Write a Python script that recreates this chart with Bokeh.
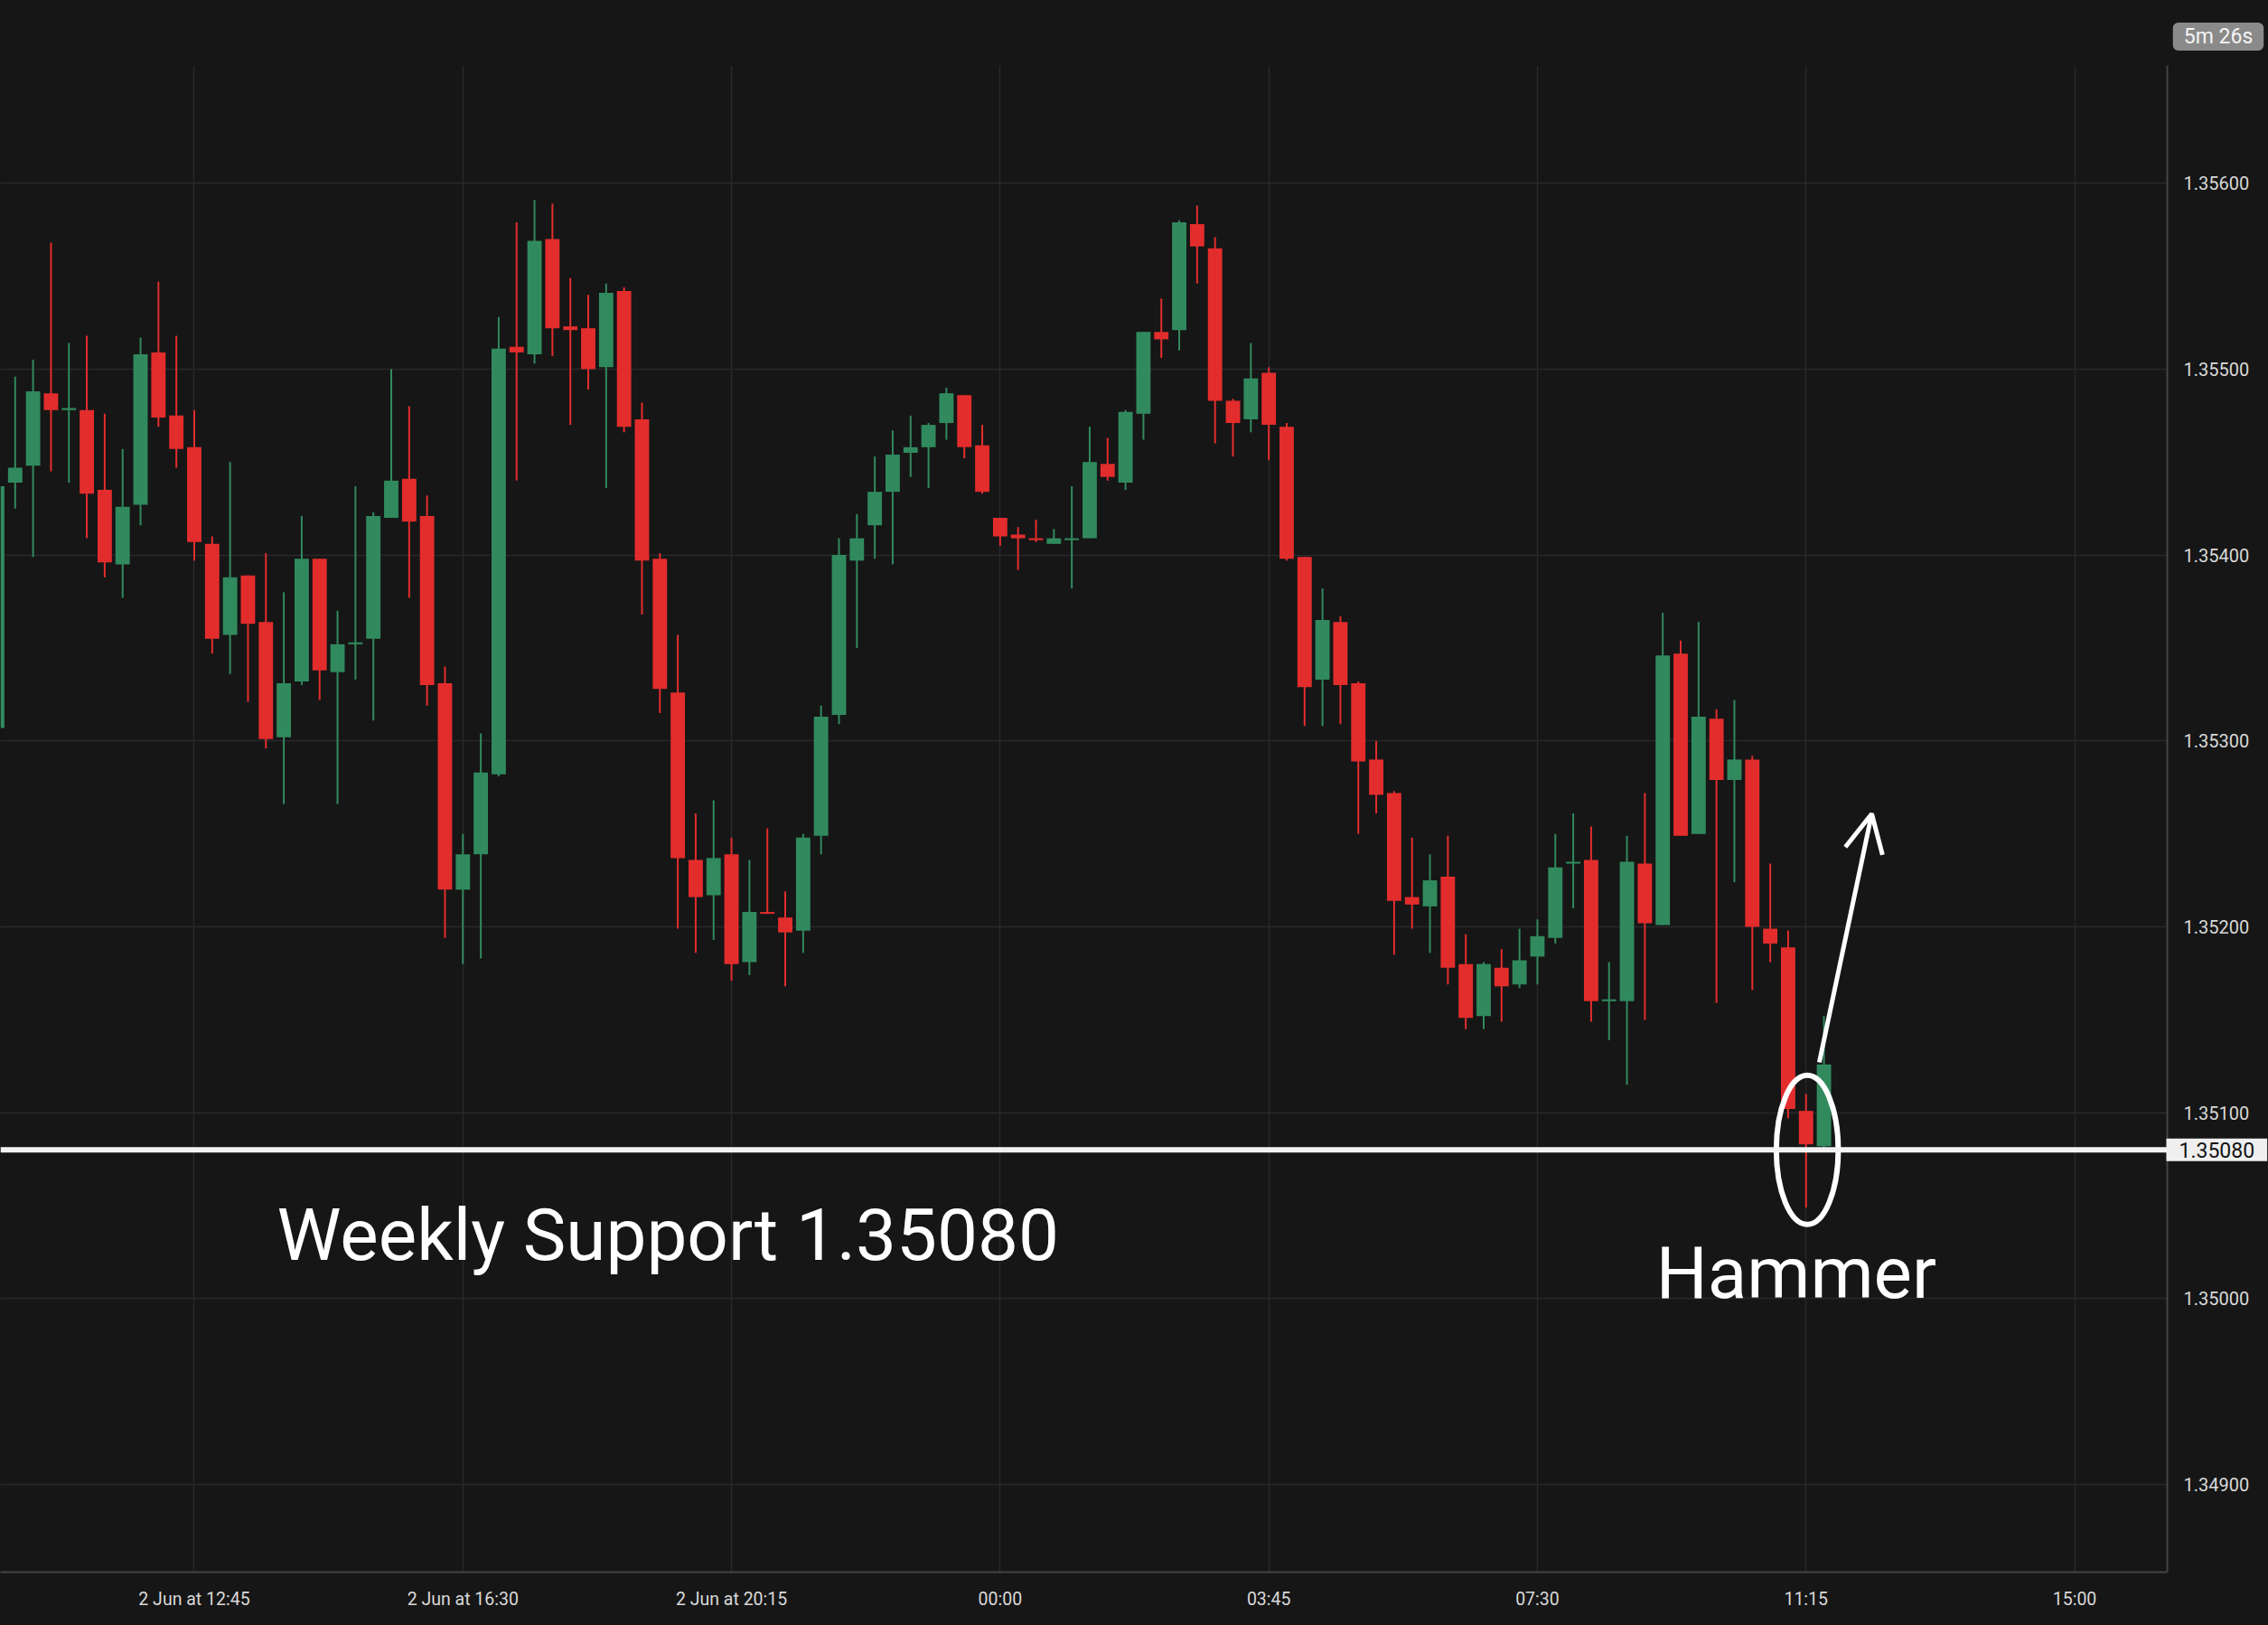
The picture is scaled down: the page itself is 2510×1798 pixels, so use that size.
from bokeh.plotting import figure
from bokeh.models import (ColumnDataSource, FixedTicker, Span, Label, Arrow,
                          OpenHead, PrintfTickFormatter)
from bokeh.embed import file_html
from bokeh.resources import INLINE

# ---- data (15-minute candles; index 0 = 2 Jun 12:45) ----
first_index = -11
opens = [1.35307, 1.35439, 1.35448, 1.35487, 1.35478, 1.35478, 1.35435, 1.35395, 1.35427, 1.35509,
         1.35475, 1.35458, 1.35406, 1.35357, 1.35389, 1.35364, 1.35302, 1.35332, 1.35398, 1.35337,
         1.35352, 1.35355, 1.35420, 1.35441, 1.35421, 1.35331, 1.35220, 1.35239, 1.35282, 1.35512,
         1.35508, 1.35570, 1.35523, 1.35522, 1.35501, 1.35542, 1.35473, 1.35398, 1.35326, 1.35236,
         1.35217, 1.35239, 1.35181, 1.35208, 1.35205, 1.35198, 1.35249, 1.35314, 1.35397, 1.35416,
         1.35434, 1.35455, 1.35458, 1.35471, 1.35486, 1.35459, 1.35420, 1.35411, 1.35409, 1.35406,
         1.35408, 1.35409, 1.35449, 1.35439, 1.35476, 1.35520, 1.35521, 1.35578, 1.35565, 1.35483,
         1.35473, 1.35498, 1.35469, 1.35399, 1.35333, 1.35364, 1.35331, 1.35290, 1.35272, 1.35216,
         1.35211, 1.35227, 1.35180, 1.35152, 1.35178, 1.35169, 1.35184, 1.35194, 1.35234, 1.35236,
         1.35160, 1.35160, 1.35234, 1.35201, 1.35347, 1.35250, 1.35312, 1.35279, 1.35290, 1.35199,
         1.35189, 1.35101, 1.35082]
highs = [1.35440, 1.35496, 1.35505, 1.35568, 1.35514, 1.35518, 1.35476, 1.35457, 1.35517, 1.35547,
         1.35518, 1.35478, 1.35410, 1.35450, 1.35389, 1.35401, 1.35380, 1.35421, 1.35398, 1.35370,
         1.35437, 1.35423, 1.35500, 1.35480, 1.35432, 1.35340, 1.35250, 1.35304, 1.35528, 1.35579,
         1.35591, 1.35589, 1.35549, 1.35540, 1.35546, 1.35544, 1.35482, 1.35401, 1.35357, 1.35261,
         1.35268, 1.35248, 1.35236, 1.35253, 1.35219, 1.35250, 1.35319, 1.35409, 1.35422, 1.35453,
         1.35467, 1.35475, 1.35471, 1.35490, 1.35486, 1.35470, 1.35420, 1.35415, 1.35419, 1.35414,
         1.35437, 1.35469, 1.35463, 1.35478, 1.35520, 1.35538, 1.35580, 1.35588, 1.35571, 1.35484,
         1.35514, 1.35501, 1.35471, 1.35399, 1.35382, 1.35367, 1.35332, 1.35300, 1.35273, 1.35248,
         1.35239, 1.35249, 1.35196, 1.35181, 1.35188, 1.35199, 1.35204, 1.35250, 1.35261, 1.35254,
         1.35181, 1.35249, 1.35272, 1.35369, 1.35354, 1.35364, 1.35317, 1.35322, 1.35292, 1.35234,
         1.35198, 1.35110, 1.35152]
lows = [1.35300, 1.35425, 1.35399, 1.35445, 1.35439, 1.35409, 1.35388, 1.35377, 1.35416, 1.35469,
        1.35447, 1.35397, 1.35347, 1.35336, 1.35321, 1.35296, 1.35266, 1.35330, 1.35322, 1.35266,
        1.35333, 1.35311, 1.35420, 1.35377, 1.35319, 1.35194, 1.35180, 1.35183, 1.35281, 1.35440,
        1.35503, 1.35507, 1.35470, 1.35489, 1.35436, 1.35466, 1.35368, 1.35315, 1.35199, 1.35186,
        1.35193, 1.35171, 1.35174, 1.35207, 1.35168, 1.35186, 1.35239, 1.35309, 1.35350, 1.35398,
        1.35395, 1.35442, 1.35436, 1.35462, 1.35452, 1.35433, 1.35405, 1.35392, 1.35407, 1.35406,
        1.35382, 1.35409, 1.35440, 1.35435, 1.35462, 1.35506, 1.35510, 1.35546, 1.35460, 1.35453,
        1.35466, 1.35451, 1.35397, 1.35308, 1.35308, 1.35309, 1.35250, 1.35261, 1.35185, 1.35199,
        1.35186, 1.35169, 1.35145, 1.35145, 1.35149, 1.35167, 1.35169, 1.35191, 1.35210, 1.35149,
        1.35139, 1.35115, 1.35150, 1.35201, 1.35249, 1.35250, 1.35159, 1.35224, 1.35166, 1.35181,
        1.35097, 1.35049, 1.35081]
closes = [1.35437, 1.35447, 1.35488, 1.35478, 1.35479, 1.35433, 1.35396, 1.35426, 1.35508, 1.35474,
          1.35457, 1.35407, 1.35355, 1.35388, 1.35363, 1.35301, 1.35331, 1.35398, 1.35338, 1.35352,
          1.35353, 1.35421, 1.35440, 1.35418, 1.35330, 1.35220, 1.35239, 1.35283, 1.35511, 1.35509,
          1.35569, 1.35522, 1.35521, 1.35500, 1.35541, 1.35469, 1.35397, 1.35328, 1.35237, 1.35216,
          1.35237, 1.35180, 1.35208, 1.35207, 1.35197, 1.35248, 1.35313, 1.35400, 1.35409, 1.35434,
          1.35454, 1.35458, 1.35470, 1.35487, 1.35458, 1.35434, 1.35410, 1.35409, 1.35408, 1.35409,
          1.35409, 1.35450, 1.35442, 1.35477, 1.35520, 1.35516, 1.35579, 1.35566, 1.35483, 1.35471,
          1.35495, 1.35470, 1.35398, 1.35329, 1.35365, 1.35330, 1.35289, 1.35271, 1.35214, 1.35212,
          1.35225, 1.35178, 1.35151, 1.35180, 1.35168, 1.35182, 1.35195, 1.35232, 1.35235, 1.35160,
          1.35161, 1.35235, 1.35202, 1.35346, 1.35249, 1.35313, 1.35279, 1.35290, 1.35200, 1.35191,
          1.35102, 1.35083, 1.35126]

x_tick_positions = [0, 15, 30, 45, 60, 75, 90, 105]
x_tick_labels = ["2 Jun at 12:45", "2 Jun at 16:30", "2 Jun at 20:15", "00:00",
                 "03:45", "07:30", "11:15", "15:00"]
y_ticks = [1.349, 1.350, 1.351, 1.352, 1.353, 1.354, 1.355, 1.356]

support_level = 1.35080
hammer_index = 90
countdown_text = "5m 26s"

# ---- styling ----
BG = "#161616"
UP = "#318a5e"
DOWN = "#e32d2d"
GRID = "#29292c"
AXIS = "#444444"
LABEL = "#d9d9d9"
FONT = "Roboto"

idx = [first_index + k for k in range(len(opens))]
colors = [UP if c >= o else DOWN for o, c in zip(opens, closes)]
tops = [max(o, c) for o, c in zip(opens, closes)]
bottoms = [min(o, c) for o, c in zip(opens, closes)]
src = ColumnDataSource(dict(x=idx, o=opens, h=highs, l=lows, c=closes,
                            top=tops, bottom=bottoms, color=colors))

p = figure(width=2510, height=1798, x_range=(-10.822, 110.17),
           y_range=(1.348529, 1.356633), y_axis_location="right",
           output_backend="svg", toolbar_location=None,
           background_fill_color=BG, border_fill_color=BG,
           min_border_left=0, min_border_top=72,
           min_border_right=112, min_border_bottom=59)
p.outline_line_color = None
p.styles = {"background-color": BG}

p.segment(x0="x", y0="h", x1="x", y1="l", color="color", line_width=2, source=src)
p.vbar(x="x", top="top", bottom="bottom", width=0.8, fill_color="color",
       line_color=None, source=src)

# axes
p.xaxis.ticker = FixedTicker(ticks=x_tick_positions)
p.xaxis.major_label_overrides = {t: s for t, s in zip(x_tick_positions, x_tick_labels)}
p.yaxis.ticker = FixedTicker(ticks=y_ticks)
p.yaxis.formatter = PrintfTickFormatter(format="%.5f")
for ax in (p.xaxis, p.yaxis):
    ax.axis_line_color = AXIS
    ax.axis_line_width = 2
    ax.major_tick_line_color = None
    ax.minor_tick_line_color = None
    ax.major_tick_out = 0
    ax.major_tick_in = 0
    ax.major_label_text_color = LABEL
    ax.major_label_text_font = FONT
    ax.major_label_standoff = 18
p.yaxis.major_label_text_font_size = "20px"
p.xaxis.major_label_text_font_size = "19.5px"
p.xgrid.grid_line_color = GRID
p.ygrid.grid_line_color = GRID
p.grid.grid_line_width = 1.5

# support line
p.add_layout(Span(location=support_level, dimension="width",
                  line_color="#f2f2f2", line_width=6))

# hammer ellipse
p.ellipse(x=[hammer_index + 0.07], y=[support_level], width=3.46, height=0.000802,
          fill_color=None, line_color="white", line_width=6)

# arrow
p.add_layout(Arrow(x_start=90.74, y_start=1.351271, x_end=93.67, y_end=1.352608,
                   line_color="white", line_width=5,
                   end=OpenHead(size=42, line_color="white", line_width=5)))

# texts
p.add_layout(Label(x=4.62, y=1.350342, text=f"Weekly Support {support_level:.5f}",
                   text_font=FONT, text_font_size="80px", text_color="white",
                   text_baseline="alphabetic"))
p.add_layout(Label(x=81.62, y=1.350138, text="Hammer",
                   text_font=FONT, text_font_size="80px", text_color="white",
                   text_baseline="alphabetic"))

# price tag on axis and countdown badge: placed in a side panel so they are
# not clipped to the plotting frame (positions still in data units)
p.add_layout(Label(x=110.12, y=support_level, text=f"{support_level:.5f}",
                   text_font=FONT, text_font_size="23px", text_color="#131313",
                   text_align="left", text_baseline="middle",
                   background_fill_color="#efefef", padding=(14, 4)), "above")
p.add_layout(Label(x=113.02, y=1.356789, text=countdown_text,
                   text_font=FONT, text_font_size="23px", text_color="#f4f4f4",
                   text_align="center", text_baseline="middle",
                   background_fill_color="#8a8a8a", padding=(12, 2),
                   border_radius=6), "above")

open("out.html", "w").write(file_html(p, INLINE))
